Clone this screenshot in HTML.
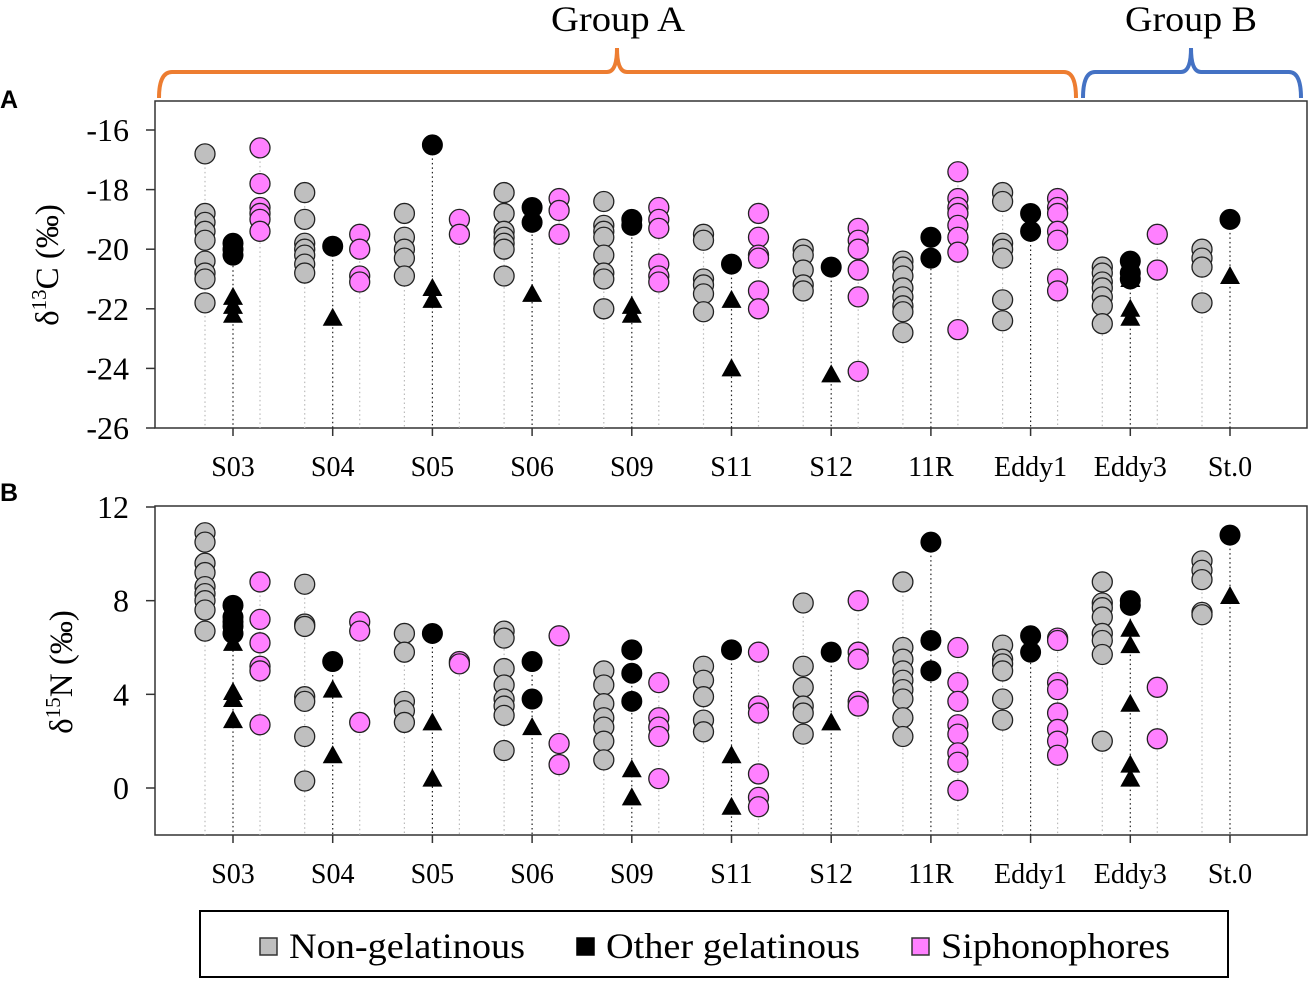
<!DOCTYPE html>
<html><head><meta charset="utf-8">
<style>
html,body{margin:0;padding:0;background:#fff;}
svg{display:block;font-family:"Liberation Serif","Times New Roman",serif;}
</style></head>
<body>
<svg id="chart" width="1316" height="985" viewBox="0 0 1316 985">
  <g>
    <path d="M159,98 Q159,72 172,72 L607,72 Q617,72 617,48 Q617,72 627,72 L1064,72 Q1076,72 1076,98" fill="none" stroke="#ED7D31" stroke-width="4"/>
    <path d="M1083,98 Q1083,72 1095,72 L1181,72 Q1191,72 1191,48 Q1191,72 1201,72 L1289,72 Q1301,72 1301,98" fill="none" stroke="#4472C4" stroke-width="4"/>
    <text x="551" y="31" font-size="36" textLength="134" lengthAdjust="spacingAndGlyphs">Group A</text>
    <text x="1125" y="31" font-size="36" textLength="132" lengthAdjust="spacingAndGlyphs">Group B</text>
  </g>
  <text x="0" y="108" font-family="Liberation Sans, sans-serif" font-weight="bold" font-size="25">A</text>
  <text x="0" y="501" font-family="Liberation Sans, sans-serif" font-weight="bold" font-size="25">B</text>
  <g id="panelA"></g>
  <g id="panelB"></g>
  <g>
    <rect x="200" y="911" width="1028" height="66" fill="#fff" stroke="#000" stroke-width="2"/>
    <rect x="260" y="938" width="17" height="17" fill="#bfbfbf" stroke="#333" stroke-width="1.5"/>
    <text x="289" y="958" font-size="36" textLength="236" lengthAdjust="spacingAndGlyphs">Non-gelatinous</text>
    <rect x="577" y="938" width="17" height="17" fill="#000" stroke="#000" stroke-width="1.5"/>
    <text x="606" y="958" font-size="36" textLength="254" lengthAdjust="spacingAndGlyphs">Other gelatinous</text>
    <rect x="912" y="938" width="17" height="17" fill="#ff80ff" stroke="#333" stroke-width="1.5"/>
    <text x="941" y="958" font-size="36" textLength="229" lengthAdjust="spacingAndGlyphs">Siphonophores</text>
  </g>
</svg>
<script>
const stations = ["S03","S04","S05","S06","S09","S11","S12","11R","Eddy1","Eddy3","St.0"];
const ticksA = [-16,-18,-20,-22,-24,-26];
const ticksB = [12,8,4,0];
// Panel A: d13C
const greyA = [[-16.8,-18.8,-19.1,-19.4,-19.7,-20.4,-20.8,-21.0,-21.8],[-18.1,-19.0,-19.8,-20.0,-20.2,-20.5,-20.8],[-18.8,-19.6,-20.0,-20.3,-20.9],[-18.1,-18.8,-19.4,-19.6,-19.8,-20.0,-20.9],[-18.4,-19.2,-19.4,-19.6,-20.2,-20.8,-21.0,-22.0],[-19.5,-19.7,-21.0,-21.2,-21.5,-22.1],[-20.0,-20.2,-20.7,-21.2,-21.4],[-20.4,-20.6,-20.9,-21.3,-21.6,-21.9,-22.1,-22.8],[-18.1,-18.4,-19.8,-20.0,-20.3,-21.7,-22.4],[-20.6,-20.8,-21.1,-21.3,-21.6,-21.9,-22.5],[-20.0,-20.3,-20.6,-21.8]];
const blackA = [[-19.8,-20.0,-20.2],[-19.9],[-16.5],[-18.6,-19.1],[-19.0,-19.2],[-20.5],[-20.6],[-19.6,-20.3],[-18.8,-19.4],[-20.4,-20.8,-21.0],[-19.0]];
const triA = [[-21.6,-21.9,-22.2],[-22.3],[-21.3,-21.7],[-21.5],[-21.9,-22.2],[-21.7,-24.0],[-24.2],[],[],[-21.0,-22.0,-22.3],[-20.9]];
const pinkA = [[-16.6,-17.8,-18.6,-18.8,-19.0,-19.4],[-19.5,-20.0,-20.9,-21.1],[-19.0,-19.5],[-18.3,-18.7,-19.5],[-18.6,-19.0,-19.3,-20.5,-20.9,-21.1],[-18.8,-19.6,-20.2,-20.3,-21.4,-22.0],[-19.3,-19.7,-20.0,-20.7,-21.6,-24.1],[-17.4,-18.3,-18.6,-18.8,-19.2,-19.6,-20.1,-22.7],[-18.3,-18.6,-18.8,-19.4,-19.7,-21.0,-21.4],[-19.5,-20.7],[]];
// Panel B: d15N
const greyB = [[10.9,10.5,9.6,9.2,8.6,8.3,8.0,7.6,6.7],[8.7,7.0,6.9,3.9,3.7,2.2,0.3],[6.6,5.8,3.7,3.3,2.8],[6.7,6.4,5.1,4.4,3.8,3.5,3.1,1.6],[5.0,4.4,3.6,3.0,2.6,2.0,1.2],[5.2,4.6,3.9,2.9,2.4],[7.9,5.2,4.3,3.5,3.2,2.3],[8.8,6.0,5.5,5.0,4.6,4.2,3.8,3.0,2.2],[6.1,5.5,5.3,5.0,3.8,2.9],[8.8,7.9,7.7,7.3,6.6,6.3,5.7,2.0],[9.7,9.3,8.9,7.5,7.4]];
const blackB = [[7.8,7.3,7.1,6.9,6.6],[5.4],[6.6],[5.4,3.8],[5.9,4.9,3.7],[5.9],[5.8],[10.5,6.3,5.0],[6.5,5.8],[8.0,7.8],[10.8]];
const triB = [[6.2,4.1,3.8,2.9],[4.2,1.4],[2.8,0.4],[2.6],[0.8,-0.4],[1.4,-0.8],[2.8],[],[],[6.8,6.1,3.6,1.0,0.4],[8.2]];
const pinkB = [[8.8,7.2,6.2,5.2,5.0,2.7],[7.1,6.7,2.8],[5.4,5.3],[6.5,1.9,1.0],[4.5,3.0,2.6,2.2,0.4],[5.8,3.5,3.2,0.6,-0.4,-0.8],[8.0,5.8,5.5,3.7,3.5],[6.0,4.5,3.7,2.7,2.3,1.5,1.1,-0.1],[6.4,6.3,4.5,4.2,3.2,2.5,2.0,1.4],[4.3,2.1],[]];

const NS = "http://www.w3.org/2000/svg";
function mk(tag, attrs, parent){const e=document.createElementNS(NS,tag);for(const k in attrs)e.setAttribute(k,attrs[k]);parent.appendChild(e);return e;}
function xStation(i){return 233 + i*99.7;}

function drawPanel(g, cfg){
  const y = v => cfg.y0 + (v - cfg.v0) * (cfg.y1 - cfg.y0) / (cfg.v1 - cfg.v0);
  const frame = mk('rect',{x:155,y:cfg.top,width:1152,height:cfg.bottom-cfg.top,fill:'none',stroke:'#333','stroke-width':1.5},g);
  
  
  cfg.ticks.forEach(t=>{
    const ty=y(t);
    const tl=mk('line',{x1:146,x2:155,y1:ty,y2:ty,stroke:'#333','stroke-width':1.5},g);
    
    
    const tx=mk('text',{x:129,y:ty+11,'font-size':32,'text-anchor':'end'},g);
    tx.textContent=t;
    
    
  });
  const yt=mk('text',{transform:`translate(${cfg.titleX},${cfg.titleY}) rotate(-90)`,'font-size':33,'text-anchor':'middle'},g);
  
  
  yt.innerHTML = cfg.title;
  stations.forEach((s,i)=>{
    const cx=xStation(i);
    const tk=mk('line',{x1:cx,x2:cx,y1:cfg.bottom,y2:cfg.bottom+8,stroke:'#333','stroke-width':1.5},g);
    
    
    const lb=mk('text',{x:cx,y:cfg.bottom+48,'font-size':28,'text-anchor':'middle'},g);
    lb.textContent=s;
    
    
    const cols=[[cfg.grey[i],-28,'#bbb'],[cfg.black[i].concat(cfg.tri[i]),0,'#222'],[cfg.pink[i],27,'#bbb']];
    cols.forEach(([vals,dx,lc])=>{
      if(!vals.length)return;
      const top=Math.min(...vals.map(y));
      const dl=mk('line',{x1:cx+dx,x2:cx+dx,y1:top,y2:cfg.bottom,stroke:lc,'stroke-width':1.2,'stroke-dasharray':'1.5,3'},g);
      
      
    });
    cfg.grey[i].forEach(v=>{
      const c=mk('circle',{cx:cx-28,cy:y(v),r:10,fill:'#bfbfbf',stroke:'#222','stroke-width':1.3},g);
      
      
    });
    cfg.pink[i].forEach(v=>{
      const c=mk('circle',{cx:cx+27,cy:y(v),r:10,fill:'#ff80ff',stroke:'#222','stroke-width':1.3},g);
      
      
    });
    cfg.black[i].forEach(v=>{
      const c=mk('circle',{cx:cx,cy:y(v),r:10,fill:'#000',stroke:'#000','stroke-width':1},g);
      
      
    });
    cfg.tri[i].forEach(v=>{
      const ty=y(v);
      const p=mk('polygon',{points:`${cx-10},${ty+8} ${cx+10},${ty+8} ${cx},${ty-10}`,fill:'#000'},g);
      
      
    });
  });
}
drawPanel(document.getElementById('panelA'),{top:101,bottom:428,v0:-16,y0:130,v1:-26,y1:428,ticks:ticksA,grey:greyA,black:blackA,tri:triA,pink:pinkA,titleX:58,titleY:265,title:'δ<tspan dy="-12" font-size="21">13</tspan><tspan dy="12">C (‰)</tspan>'});
drawPanel(document.getElementById('panelB'),{top:506,bottom:835,v0:12,y0:507,v1:0,y1:788,ticks:ticksB,grey:greyB,black:blackB,tri:triB,pink:pinkB,titleX:72,titleY:672,title:'δ<tspan dy="-12" font-size="21">15</tspan><tspan dy="12">N (‰)</tspan>'});
</script>
</body></html>
